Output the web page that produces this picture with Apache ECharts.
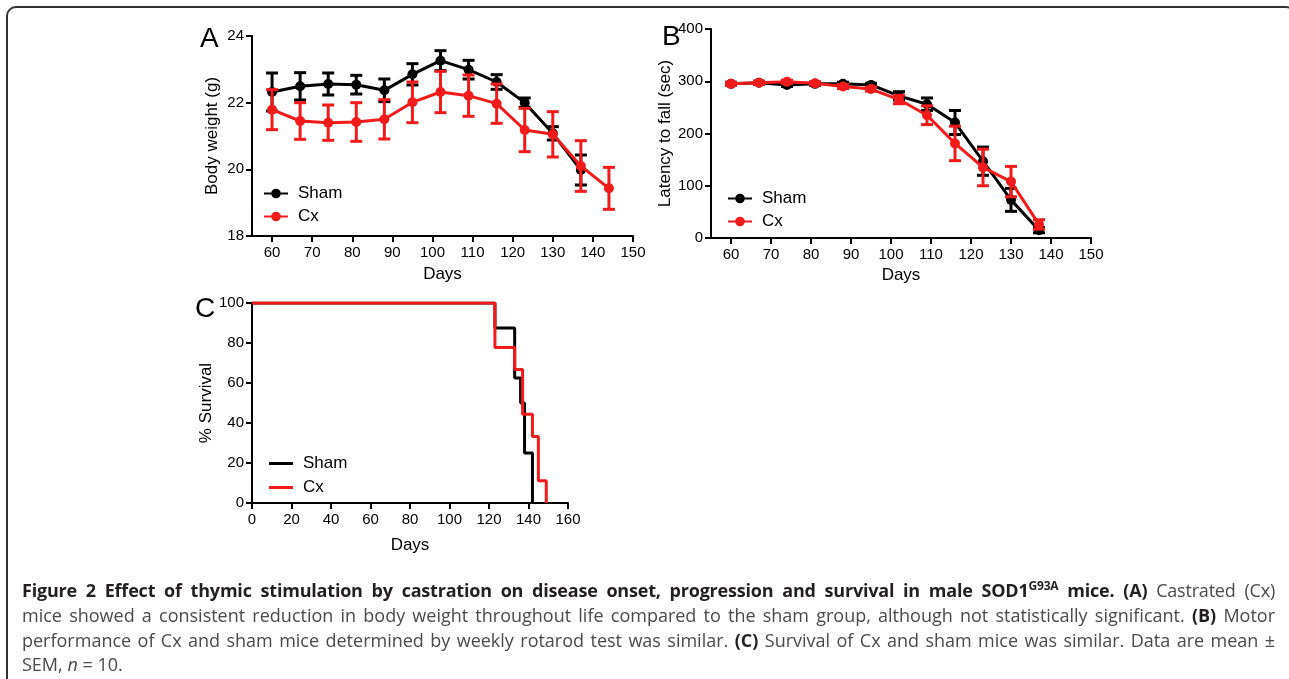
<!DOCTYPE html>
<html>
<head>
<meta charset="utf-8">
<script src="https://cdn.jsdelivr.net/npm/echarts@6/dist/echarts.min.js"></script>
<style>
  html, body { margin:0; padding:0; background:#fff; }
  #wrap { position:relative; width:1289px; height:679px; overflow:hidden; }
  #chart { position:absolute; left:0; top:0; width:1289px; height:679px; }
  #frame { position:absolute; left:6px; top:6px; width:1290px; height:690px; border:2px solid #333; border-radius:10px; box-sizing:border-box; }
  #caption { position:absolute; left:22px; top:578px; width:1253px; font-family:'Open Sans', sans-serif; font-size:18px; line-height:24.8px; color:#4a4a4a; }
  #caption .ln { text-align:justify; text-align-last:justify; white-space:normal; }
  #caption .first { letter-spacing:-0.2px; }
  #caption .last { text-align:left; }
  #caption b { color:#231f20; font-weight:700; }
  #caption sup { font-size:12px; line-height:0; }
</style>
</head>
<body>
<div id="wrap">
  <div id="frame"></div>
  <div id="chart"></div>
  <div id="caption">
    <div class="ln first"><b>Figure 2 Effect of thymic stimulation by castration on disease onset, progression and survival in male SOD1<sup>G93A</sup> mice. (A)</b> Castrated (Cx)</div>
    <div class="ln">mice showed a consistent reduction in body weight throughout life compared to the sham group, although not statistically significant. <b>(B)</b> Motor</div>
    <div class="ln">performance of Cx and sham mice determined by weekly rotarod test was similar. <b>(C)</b> Survival of Cx and sham mice was similar. Data are mean ±</div>
    <div class="last">SEM, <i>n</i> = 10.</div>
  </div>
</div>
<script>
// ---- data ----
const shamDays = [60, 67, 74, 81, 88, 95, 102, 109, 116, 123, 130, 137];
const cxDays = [60, 67, 74, 81, 88, 95, 102, 109, 116, 123, 130, 137, 144];
const shamWeight = [22.32, 22.49, 22.56, 22.54, 22.37, 22.85, 23.26, 22.99, 22.62, 22.0, 21.08, 19.98];
const shamWeightSem = [0.57, 0.41, 0.33, 0.28, 0.34, 0.32, 0.30, 0.28, 0.22, 0.14, 0.2, 0.45];
const cxWeight = [21.79, 21.45, 21.40, 21.42, 21.50, 22.01, 22.32, 22.21, 21.97, 21.18, 21.05, 20.10, 19.43];
const cxWeightSem = [0.6, 0.55, 0.53, 0.58, 0.59, 0.61, 0.62, 0.62, 0.59, 0.65, 0.68, 0.76, 0.63];
const rotaDays = [60, 67, 74, 81, 88, 95, 102, 109, 116, 123, 130, 137];
const shamLatency = [295, 297, 293, 295, 295, 293, 272, 256, 221, 147, 73, 15];
const shamLatencySem = [3, 3, 3, 3, 3, 3, 8, 12, 23, 27, 22, 5];
const cxLatency = [295, 297, 299, 296, 290, 285, 265, 235, 181, 135, 108, 26];
const cxLatencySem = [3, 3, 3, 3, 4, 4, 8, 18, 33, 35, 29, 9];
const shamSurvDays = [0, 123, 133, 136, 138, 142];
const shamSurv = [100, 87.5, 62.5, 50, 25, 0];
const cxSurvDays = [0, 123, 133, 137, 142, 145, 149];
const cxSurv = [100, 77.8, 66.7, 44.4, 33.3, 11.1, 0];
const dayTicksAB = [60, 70, 80, 90, 100, 110, 120, 130, 140, 150];

// ---- style ----
const BLACK = '#000000';
const RED = '#f21b1b';
const FONT = 'Liberation Sans';
const TICK_FS = 15;

const zip2 = (a, b) => a.map((v, i) => [v, b[i]]);
const zip3 = (a, b, c) => a.map((v, i) => [v, b[i], c[i]]);

function errRender(params, api) {
  const x = api.value(0), m = api.value(1), s = api.value(2);
  const t = api.coord([x, m + s]), b = api.coord([x, m - s]);
  const hw = 6;
  const st = { stroke: api.visual('color'), lineWidth: 3 };
  return { type: 'group', children: [
    { type: 'line', shape: { x1: t[0], y1: t[1], x2: b[0], y2: b[1] }, style: st },
    { type: 'line', shape: { x1: t[0] - hw, y1: t[1], x2: t[0] + hw, y2: t[1] }, style: st },
    { type: 'line', shape: { x1: b[0] - hw, y1: b[1], x2: b[0] + hw, y2: b[1] }, style: st }
  ]};
}

const tickStyle = { show: true, length: 6, lineStyle: { color: BLACK, width: 2 } };
const axisCommon = {
  axisLine: { show: true, onZero: false, lineStyle: { color: BLACK, width: 2 } },
  axisTick: tickStyle,
  axisLabel: { color: BLACK, fontSize: TICK_FS, fontFamily: FONT },
  splitLine: { show: false },
  nameTextStyle: { color: BLACK, fontSize: 17, fontFamily: FONT },
  nameLocation: 'middle'
};
function xAx(idx, min, max, gap, custom) {
  const ax = Object.assign({}, axisCommon, { type: 'value', gridIndex: idx, min: min, max: max, name: 'Days', nameGap: gap });
  if (custom) {
    ax.axisTick = Object.assign({}, tickStyle, { customValues: custom });
    ax.axisLabel = { color: BLACK, fontSize: TICK_FS, fontFamily: FONT, margin: 9, customValues: custom };
  } else {
    ax.interval = 20;
    ax.axisLabel = { color: BLACK, fontSize: TICK_FS, fontFamily: FONT, margin: 9 };
  }
  return ax;
}
function yAx(idx, min, max, interval, name, gap) {
  return Object.assign({}, axisCommon, {
    type: 'value', gridIndex: idx, min: min, max: max, interval: interval, name: name, nameGap: gap,
    axisLabel: { color: BLACK, fontSize: TICK_FS, fontFamily: FONT, margin: 8 }
  });
}

function lineSeries(name, xi, data, color, z) {
  return { name: name, type: 'line', xAxisIndex: xi, yAxisIndex: xi, data: data,
    symbol: 'circle', symbolSize: 10, showSymbol: true,
    itemStyle: { color: color }, lineStyle: { color: color, width: 3 }, z: z, animation: false };
}
function errSeries(name, xi, data, color, z) {
  return { name: name, type: 'custom', xAxisIndex: xi, yAxisIndex: xi, data: data,
    renderItem: errRender, encode: { x: 0, y: 1 }, itemStyle: { color: color }, z: z, animation: false };
}
function stepSeries(name, xi, data, color, z) {
  return { name: name, type: 'line', step: 'end', xAxisIndex: xi, yAxisIndex: xi, data: data,
    symbol: 'none', showSymbol: false, itemStyle: { color: color }, lineStyle: { color: color, width: 3 }, z: z, animation: false };
}
function legendAt(left, top, names, extra) {
  return Object.assign({ orient: 'vertical', left: left, top: top, padding: 0, itemGap: 6, itemWidth: 24, itemHeight: 12,
    selectedMode: false, data: names, formatter: n => n.slice(2),
    textStyle: { color: BLACK, fontSize: 17, fontFamily: FONT, padding: [0, 0, 0, 5] } }, extra || {});
}

const chart = echarts.init(document.getElementById('chart'), null, { renderer: 'canvas' });
chart.setOption({
  animation: false,
  grid: [
    { left: 252, top: 36, width: 381, height: 200 },
    { left: 711, top: 29, width: 380, height: 209 },
    { left: 252, top: 303, width: 316, height: 200 }
  ],
  xAxis: [
    xAx(0, 55, 150, 30, dayTicksAB),
    xAx(1, 55, 150, 28.5, dayTicksAB),
    xAx(2, 0, 160, 34, null)
  ],
  yAxis: [
    yAx(0, 18, 24, 2, 'Body weight (g)', 31.5),
    yAx(1, 0, 400, 100, 'Latency to fall (sec)', 32),
    yAx(2, 0, 100, 20, '% Survival', 33)
  ],
  legend: [
    legendAt(263, 185, ['A Sham', 'A Cx']),
    legendAt(727, 190, ['B Sham', 'B Cx']),
    legendAt(269, 455, [{ name: 'C Sham', icon: 'rect' }, { name: 'C Cx', icon: 'rect' }], { itemHeight: 3, itemGap: 7 })
  ],
  graphic: [
    { type: 'text', left: 200, top: 25, style: { text: 'A', fontSize: 28, fontFamily: FONT, fill: BLACK } },
    { type: 'text', left: 662, top: 23, style: { text: 'B', fontSize: 28, fontFamily: FONT, fill: BLACK } },
    { type: 'text', left: 195, top: 295, style: { text: 'C', fontSize: 28, fontFamily: FONT, fill: BLACK } }
  ],
  series: [
    errSeries('A Sham err', 0, zip3(shamDays, shamWeight, shamWeightSem), BLACK, 2),
    lineSeries('A Sham', 0, zip2(shamDays, shamWeight), BLACK, 3),
    errSeries('A Cx err', 0, zip3(cxDays, cxWeight, cxWeightSem), RED, 4),
    lineSeries('A Cx', 0, zip2(cxDays, cxWeight), RED, 5),
    errSeries('B Sham err', 1, zip3(rotaDays, shamLatency, shamLatencySem), BLACK, 2),
    lineSeries('B Sham', 1, zip2(rotaDays, shamLatency), BLACK, 3),
    errSeries('B Cx err', 1, zip3(rotaDays, cxLatency, cxLatencySem), RED, 4),
    lineSeries('B Cx', 1, zip2(rotaDays, cxLatency), RED, 5),
    stepSeries('C Sham', 2, zip2(shamSurvDays, shamSurv), BLACK, 3),
    stepSeries('C Cx', 2, zip2(cxSurvDays, cxSurv), RED, 5)
  ]
});
</script>
</body>
</html>
